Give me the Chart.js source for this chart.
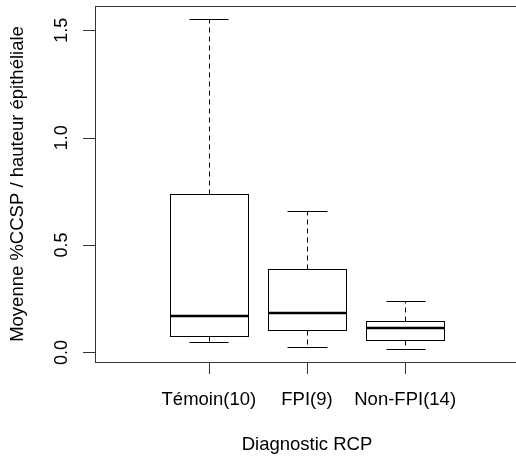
<!DOCTYPE html>
<html lang="fr">
<head>
  <meta charset="UTF-8">
  <title>Boxplot CCSP</title>
  <script src="https://cdn.jsdelivr.net/npm/chart.js"></script>
  <style>
    html, body { margin: 0; padding: 0; background: #fff; overflow: hidden; }
    #wrap { width: 516px; height: 457px; overflow: hidden; }
  </style>
</head>
<body>
  <div id="wrap"><canvas id="boxChart" width="524" height="457"></canvas></div>

  <script>
    const groups = ["Témoin(10)", "FPI(9)", "Non-FPI(14)"];
    const whiskerLow = [0.047, 0.025, 0.017];
    const q1 = [0.076, 0.104, 0.059];
    const median = [0.172, 0.186, 0.113];
    const q3 = [0.739, 0.388, 0.147];
    const whiskerHigh = [1.552, 0.660, 0.239];
    const yTicks = [0.0, 0.5, 1.0, 1.5];
    const yTitle = "Moyenne %CCSP / hauteur épithéliale";
    const xTitle = "Diagnostic RCP";

    // plage style R : 4% de marge
    const lo = Math.min(...whiskerLow), hi = Math.max(...whiskerHigh);
    const span = hi - lo;

    const font = "'Liberation Sans', Arial, sans-serif";

    const boxPlugin = {
      id: "rBoxplot",
      afterDraw(chart) {
        const ctx = chart.ctx;
        const xs = chart.scales.x, ys = chart.scales.y;
        const a = chart.chartArea;
        const px = v => Math.round(xs.getPixelForValue(v)) + 0.5;
        const py = v => Math.round(ys.getPixelForValue(v)) + 0.5;
        ctx.save();

        // boites
        groups.forEach((g, i) => {
          const c = px(i + 1);
          const x0 = px(i + 1 - 0.4), x1 = px(i + 1 + 0.4);
          const s0 = px(i + 1 - 0.2), s1 = px(i + 1 + 0.2);
          ctx.strokeStyle = "#000";
          ctx.lineWidth = 1;
          // moustaches pointillées
          ctx.setLineDash([5, 4]);
          ctx.beginPath();
          ctx.moveTo(c, py(q3[i])); ctx.lineTo(c, py(whiskerHigh[i]));
          ctx.moveTo(c, py(q1[i])); ctx.lineTo(c, py(whiskerLow[i]));
          ctx.stroke();
          ctx.setLineDash([]);
          ctx.beginPath();
          ctx.moveTo(s0, py(whiskerHigh[i])); ctx.lineTo(s1, py(whiskerHigh[i]));
          ctx.moveTo(s0, py(whiskerLow[i])); ctx.lineTo(s1, py(whiskerLow[i]));
          ctx.stroke();
          ctx.fillStyle = "#fff";
          ctx.fillRect(x0, py(q3[i]), x1 - x0, py(q1[i]) - py(q3[i]));
          ctx.strokeRect(x0, py(q3[i]), x1 - x0, py(q1[i]) - py(q3[i]));
          ctx.lineWidth = 2.5;
          ctx.beginPath();
          ctx.moveTo(x0, Math.round(ys.getPixelForValue(median[i])));
          ctx.lineTo(x1, Math.round(ys.getPixelForValue(median[i])));
          ctx.stroke();
        });

        // cadre
        ctx.lineWidth = 1;
        ctx.strokeStyle = "#333";
        ctx.strokeRect(Math.round(a.left) + 0.5, Math.round(a.top) + 0.5,
          Math.round(a.right - a.left), Math.round(a.bottom - a.top));

        // axe y
        ctx.fillStyle = "#000";
        ctx.beginPath();
        yTicks.forEach(t => {
          ctx.moveTo(a.left - 12, py(t)); ctx.lineTo(a.left, py(t));
        });
        ctx.stroke();
        ctx.font = "18px " + font;
        ctx.textAlign = "center";
        ctx.textBaseline = "alphabetic";
        yTicks.forEach(t => {
          ctx.save();
          ctx.translate(67, ys.getPixelForValue(t));
          ctx.rotate(-Math.PI / 2);
          ctx.fillText(t.toFixed(1), 0, 0);
          ctx.restore();
        });

        // axe x
        ctx.beginPath();
        groups.forEach((g, i) => {
          ctx.moveTo(px(i + 1), a.bottom); ctx.lineTo(px(i + 1), a.bottom + 12);
        });
        ctx.stroke();
        ctx.font = "18.5px " + font;
        groups.forEach((g, i) => {
          ctx.fillText(g, xs.getPixelForValue(i + 1), 405);
        });

        // titres
        ctx.fillText(xTitle, xs.getPixelForValue(2), 450);
        ctx.save();
        ctx.translate(23, (a.top + a.bottom) / 2);
        ctx.rotate(-Math.PI / 2);
        ctx.fillText(yTitle, 0, 0);
        ctx.restore();

        ctx.restore();
      }
    };

    new Chart(document.getElementById("boxChart"), {
      type: "scatter",
      data: {
        datasets: [{
          data: groups.map((g, i) => ({ x: i + 1, y: median[i] })),
          pointRadius: 0,
          showLine: false
        }]
      },
      options: {
        responsive: false,
        animation: false,
        layout: { padding: { left: 95, top: 6, right: 5, bottom: 95 } },
        plugins: { legend: { display: false }, tooltip: { enabled: false } },
        scales: {
          x: { type: "linear", min: -0.16, max: 4.16, display: false },
          y: { type: "linear", min: lo - 0.04 * span, max: hi + 0.04 * span, display: false }
        }
      },
      plugins: [boxPlugin]
    });
  </script>
</body>
</html>
